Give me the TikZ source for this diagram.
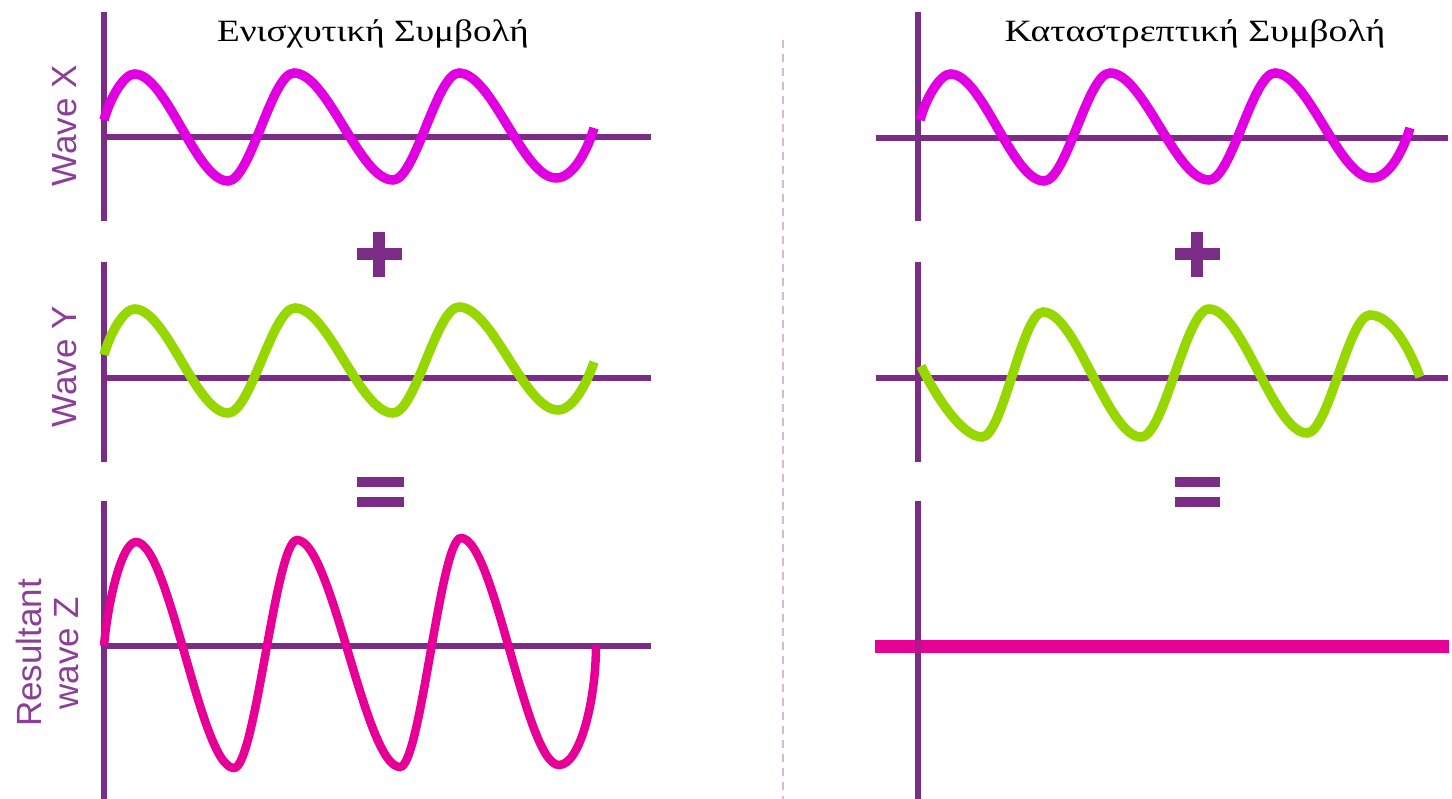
\documentclass[tikz,border=0pt]{standalone}
\usepackage{fontspec}
\setmainfont{Liberation Serif}
\newfontfamily\lblfont{Liberation Sans}
\definecolor{axpurple}{RGB}{123,44,135}
\definecolor{lblpurple}{RGB}{140,62,152}
\definecolor{wmag}{RGB}{225,0,225}
\definecolor{wgreen}{RGB}{150,215,0}
\definecolor{wpink}{RGB}{230,0,150}
\definecolor{divcol}{RGB}{215,185,215}
\newcommand\wxpath{(104,120) .. controls (110,98) and (124,74) .. (134.5,74)
 .. controls (166.3,74) and (196.2,181) .. (228,181)
 .. controls (250.4,181) and (271.6,73) .. (294,73)
 .. controls (327.7,73) and (359.3,180) .. (393,180)
 .. controls (415.4,180) and (436.6,73) .. (459,73)
 .. controls (492,73) and (523,178) .. (556,178)
 .. controls (574,178) and (588,148) .. (594,128)}
\begin{document}
\begin{tikzpicture}[x=1pt,y=-1pt,
  axis/.style={draw=axpurple, line width=6pt},
  wavex/.style={draw=wmag, line width=9.5pt},
  wavey/.style={draw=wgreen, line width=9.5pt},
  wavez/.style={draw=wpink, line width=8.5pt},
  sym/.style={fill=axpurple},
  lbl/.style={font=\lblfont\fontsize{35}{37}\selectfont, text=lblpurple, rotate=90, align=center, inner sep=0pt},
  ttl/.style={font=\fontsize{31}{36}\selectfont, anchor=base, inner sep=0pt}]
\useasboundingbox (0,0) rectangle (1452,799);
\fill[white] (0,0) rectangle (1452,799);
% titles
\node[ttl] (t1) at (373,42) {\scalebox{1.2}[1]{Ενισχυτική Συμβολή}};
\node[ttl] (t2) at (1195,42) {\scalebox{1.22}[1]{Καταστρεπτική Συμβολή}};
% labels
\node[lbl] (lx) at (64.5,126) {Wave X};
\node[lbl] (ly) at (64.5,367) {Wave Y};
\node[lbl] (lz) at (47.5,653) {Resultant\\wave Z};
% divider
\draw[divcol, line width=2.5pt, dash pattern=on 8pt off 6pt] (783,40) -- (783,799);
% ---- left panel ----
\draw[axis] (104,12) -- (104,221);
\draw[axis] (104,137) -- (651,137);
\draw[wavex] \wxpath;
\draw[axis] (104,262) -- (104,462);
\draw[axis] (104,378) -- (651,378);
\draw[wavey] (104,355) .. controls (110,333) and (124,309) .. (134.5,309)
 .. controls (166.3,309) and (196.2,413) .. (228,413)
 .. controls (250.8,413) and (272.2,308) .. (295,308)
 .. controls (328.3,308) and (359.7,413) .. (393,413)
 .. controls (415.4,413) and (436.6,307) .. (459,307)
 .. controls (492.7,307) and (524.3,410) .. (558,410)
 .. controls (574,410) and (588,380) .. (594,362);
\draw[axis] (104,501) -- (104,799);
\draw[axis] (104,646) -- (651,646);
\draw[wavez] (104,646) .. controls (108,600) and (122,542) .. (136,542)
 .. controls (169.3,542) and (200.7,768) .. (234,768)
 .. controls (255.4,768) and (275.6,540) .. (297,540)
 .. controls (332,540) and (365,767) .. (400,767)
 .. controls (420.7,767) and (440.3,538) .. (461,538)
 .. controls (494.3,538) and (525.7,765) .. (559,765)
 .. controls (580,765) and (596,700) .. (596,645);
\fill[sym] (356.5,248) rectangle (401.5,260);
\fill[sym] (373,232) rectangle (385,277);
\fill[sym] (357,477) rectangle (404,487);
\fill[sym] (357,497) rectangle (404,507);
% ---- right panel ----
\draw[axis] (918,12) -- (918,221);
\draw[axis] (876,138) -- (1448,138);
\begin{scope}[xshift=816pt]
\draw[wavex] \wxpath;
\end{scope}
\draw[axis] (918,262) -- (918,462);
\draw[axis] (876,378) -- (1448,378);
\draw[wavey] (921,366) .. controls (935,395) and (962,437) .. (982,437)
 .. controls (1002.7,437) and (1022.3,312) .. (1043,312)
 .. controls (1076.3,312) and (1107.7,437) .. (1141,437)
 .. controls (1164,437) and (1186,309) .. (1209,309)
 .. controls (1242.3,309) and (1273.7,433) .. (1307,433)
 .. controls (1328.4,433) and (1348.6,315) .. (1370,315)
 .. controls (1390,315) and (1408,345) .. (1420,377);
\draw[axis] (918,501) -- (918,799);
\draw[draw=wpink, line width=13pt] (875,646) -- (1449,646);
\fill[axpurple, opacity=0.5] (915,639.5) rectangle (921,652.5);
\fill[sym] (1174.5,248) rectangle (1219.5,260);
\fill[sym] (1191,232) rectangle (1203,277);
\fill[sym] (1175,477) rectangle (1220,487);
\fill[sym] (1175,497) rectangle (1220,507);
\end{tikzpicture}
\end{document}
